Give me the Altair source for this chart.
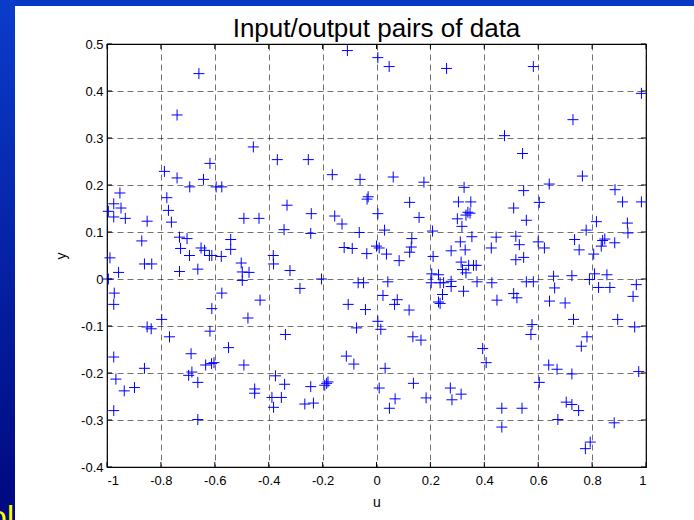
import altair as alt
import pandas as pd

u_vals = [
    -0.108, -0.659, -0.740, -0.457, -0.368, -0.253, -0.618, -0.787, -0.740, -0.164,
    -0.061, -0.642, -0.693, -0.595, -0.574, -0.952, -0.778, -0.031, -0.035, -0.975,
    -0.948, -0.995, -0.975, -0.932, -0.772, -0.332, -0.242, -0.761, -0.851, -0.492,
    -0.436, -0.155, -0.128, -0.343, -0.244, -0.064, -0.731, -0.703, -0.871, -0.541,
    -0.727, -0.651, -0.638, -0.620, -0.611, -0.694, -0.576, -0.541, -0.120, -0.090,
    -0.036, -0.989, -0.383, -0.382, -0.861, -0.834, -0.502,
    -0.957, -0.731, -0.663, -0.498, -0.473, -0.498, -0.321, -0.995, -0.204, -0.068,
    -0.048, -0.973, -0.975, -0.574, -0.284, -0.432, -0.611, -0.105, -0.041, -0.477,
    -0.797, -0.851, -0.836, -0.618, -0.768, -0.338, -0.074, -0.549, -0.688, -0.975,
    -0.112, -0.084, -0.634, -0.612, -0.603, -0.492, -0.861, -0.685, -0.697, -0.375,
    -0.967, -0.663, -0.341, -0.192, -0.180, -0.185, -0.244, -0.936, -0.898, -0.452,
    -0.452, -0.388, -0.353, -0.382, -0.266, -0.234, -0.975, -0.663,
    0.005, 0.047, 0.260, 0.582, 0.983, 0.729, 0.475, 0.542, 0.062, 0.176,
    0.764, 0.325, 0.546, 0.641, 0.885, 0.123, 0.304, 0.350, 0.604, 0.913,
    0.983, 0.509, 0.005, 0.158, 0.339, 0.332, 0.347, 0.300, 0.317, 0.556,
    0.816, 0.931, 0.030, 0.208, 0.354, 0.131, 0.778, 0.933, 0.444, 0.517,
    0.311, 0.735, 0.847, 0.884, 0.000, 0.010, 0.037, 0.129, 0.123, 0.210,
    0.277, 0.329, 0.426, 0.530, 0.600, 0.623, 0.752, 0.806, 0.834, 0.839,
    0.084, 0.517, 0.546, 0.314, 0.342, 0.360, 0.370,
    0.319, 0.332, 0.205, 0.230, 0.657, 0.725, 0.809, 0.855, 0.661, 0.042,
    0.203, 0.236, 0.249, 0.277, 0.277, 0.373, 0.428, 0.556, 0.582, 0.790,
    0.824, 0.866, 0.964, 0.952, 0.024, 0.245, 0.230, 0.236, 0.323, 0.077,
    0.067, 0.447, 0.509, 0.521, 0.642, 0.700, 0.121, 0.731, 0.895, 0.005,
    0.016, 0.577, 0.573, 0.958, 0.135, 0.165, 0.781, 0.760, 0.394, 0.407,
    0.032, 0.639, 0.670, 0.725, 0.973, 0.604, 0.010, 0.137, 0.184, 0.274,
    0.280, 0.314, 0.069, 0.048, 0.465, 0.465, 0.540, 0.704, 0.725, 0.750,
    0.673, 0.882, 0.793, 0.775,
]
y_vals = [
    0.486, 0.437, 0.349, 0.281, 0.254, 0.254, 0.246, 0.229, 0.215, 0.222,
    0.212, 0.212, 0.196, 0.196, 0.196, 0.183, 0.173, 0.175, 0.170, 0.160,
    0.151, 0.144, 0.132, 0.129, 0.146, 0.157, 0.139, 0.121, 0.123, 0.129,
    0.129, 0.134, 0.117, 0.105, 0.097, 0.099, 0.089, 0.086, 0.081, 0.084,
    0.065, 0.066, 0.061, 0.050, 0.050, 0.050, 0.048, 0.063, 0.067, 0.065,
    0.054, 0.045, 0.050, 0.032, 0.032, 0.032, 0.034,
    0.014, 0.016, 0.021, 0.015, 0.014, -0.003, 0.018, 0.000, 0.000, -0.008,
    -0.008, -0.030, -0.054, -0.030, -0.020, -0.045, -0.063, -0.054, -0.065, -0.083,
    -0.086, -0.102, -0.106, -0.111, -0.123, -0.118, -0.104, -0.146, -0.159, -0.166,
    -0.164, -0.181, -0.183, -0.180, -0.178, -0.183, -0.190, -0.198, -0.205, -0.206,
    -0.213, -0.220, -0.224, -0.226, -0.219, -0.222, -0.229, -0.238, -0.231, -0.234,
    -0.243, -0.252, -0.252, -0.273, -0.266, -0.264, -0.280, -0.299,
    0.471, 0.452, 0.448, 0.452, 0.395, 0.339, 0.305, 0.267, 0.217, 0.206,
    0.219, 0.195, 0.188, 0.202, 0.190, 0.163, 0.164, 0.164, 0.163, 0.164,
    0.164, 0.151, 0.139, 0.131, 0.142, 0.136, 0.140, 0.128, 0.112, 0.125,
    0.122, 0.119, 0.104, 0.102, 0.090, 0.086, 0.104, 0.098, 0.089, 0.091,
    0.079, 0.084, 0.085, 0.077, 0.070, 0.066, 0.053, 0.068, 0.057, 0.048,
    0.060, 0.062, 0.066, 0.073, 0.079, 0.066, 0.062, 0.053, 0.070, 0.082,
    0.039, 0.041, 0.046, 0.036, 0.029, 0.029, 0.029,
    0.020, 0.013, 0.011, 0.009, 0.006, 0.007, 0.011, 0.009, -0.019, -0.006,
    -0.008, -0.008, -0.008, -0.005, -0.016, -0.006, -0.008, -0.006, -0.006, -0.001,
    -0.018, -0.018, -0.012, -0.037, -0.035, -0.033, -0.049, -0.052, -0.026, -0.044,
    -0.054, -0.045, -0.031, -0.040, -0.047, -0.051, -0.066, -0.086, -0.086, -0.090,
    -0.107, -0.097, -0.118, -0.102, -0.123, -0.130, -0.123, -0.143, -0.148, -0.178,
    -0.190, -0.183, -0.192, -0.202, -0.197, -0.220, -0.232, -0.222, -0.253, -0.232,
    -0.257, -0.245, -0.255, -0.275, -0.275, -0.315, -0.275, -0.262, -0.267, -0.280,
    -0.299, -0.306, -0.347, -0.361,
]
x_ticks = [-1, -0.8, -0.6, -0.4, -0.2, 0, 0.2, 0.4, 0.6, 0.8, 1]
y_ticks = [-0.4, -0.3, -0.2, -0.1, 0, 0.1, 0.2, 0.3, 0.4, 0.5]
title_text = "Input/output pairs of data"

W, H = 539, 423
PAD = {"left": 107, "top": 44, "right": 48, "bottom": 53}

pts = pd.DataFrame({"u": u_vals, "y": y_vals})
xt = pd.DataFrame({"t": x_ticks})
yt = pd.DataFrame({"t": y_ticks})

xscale = alt.Scale(domain=[-1, 1], nice=False, zero=False)
yscale = alt.Scale(domain=[-0.4, 0.5], nice=False, zero=False)

common = dict(
    grid=True, gridColor="#000000", gridDash=[6, 4], gridWidth=0.7, gridOpacity=0.8,
    domain=False, ticks=False, labelFont="Liberation Sans", labelFontSize=13,
    labelColor="black", titleFont="Liberation Sans", titleFontSize=14,
    titleFontWeight="normal", titleColor="black",
    labelExpr="toString(datum.value)",
)
xaxis = alt.Axis(values=x_ticks, labelPadding=7, titlePadding=8, title="u", **common)
yaxis = alt.Axis(values=y_ticks, labelPadding=4, titlePadding=12, title="y", **common)

one = alt.Data(values=[{}])
top_bar = alt.Chart(one).mark_rect(color="#0639c4").encode(
    x=alt.value(-PAD["left"]), x2=alt.value(W + PAD["right"]),
    y=alt.value(-PAD["top"]), y2=alt.value(-38))
left_strip = alt.Chart(one).mark_rect(
    color=alt.LinearGradient(
        gradient="linear",
        stops=[alt.GradientStop(color="#0a3ccb", offset=0),
               alt.GradientStop(color="#00087e", offset=1)],
        x1=0, x2=0, y1=0, y2=1)
).encode(x=alt.value(-PAD["left"]), x2=alt.value(-92),
         y=alt.value(-PAD["top"]), y2=alt.value(H + PAD["bottom"]))
yellow = alt.Chart(one).mark_text(
    text="ol", color="#ffff00", fontSize=32, font="Liberation Sans",
    align="right", baseline="alphabetic").encode(x=alt.value(-93), y=alt.value(484))
title = alt.Chart(one).mark_text(
    text=title_text, color="black", fontSize=26, font="Liberation Sans",
    align="center", baseline="alphabetic").encode(x=alt.value(W / 2), y=alt.value(-7))

points = alt.Chart(pts).mark_point(
    shape="M-1,0L1,0M0,-1L0,1", filled=False, size=121, strokeWidth=1,
    color="#0000ff", opacity=1
).encode(
    x=alt.X("u:Q", scale=xscale, axis=xaxis),
    y=alt.Y("y:Q", scale=yscale, axis=yaxis),
)

tick_style = dict(color="black", strokeWidth=1)
xt_bot = alt.Chart(xt).mark_rule(**tick_style).encode(
    x=alt.X("t:Q", scale=xscale), y=alt.value(H), y2=alt.value(H - 5))
xt_top = alt.Chart(xt).mark_rule(**tick_style).encode(
    x=alt.X("t:Q", scale=xscale), y=alt.value(0), y2=alt.value(5))
yt_left = alt.Chart(yt).mark_rule(**tick_style).encode(
    y=alt.Y("t:Q", scale=yscale), x=alt.value(0), x2=alt.value(5))
yt_right = alt.Chart(yt).mark_rule(**tick_style).encode(
    y=alt.Y("t:Q", scale=yscale), x=alt.value(W), x2=alt.value(W - 5))

chart = alt.layer(
    top_bar, left_strip, yellow, title, points, xt_bot, xt_top, yt_left, yt_right
).properties(
    width=W, height=H, padding=PAD, autosize="none", background="white",
).configure_view(stroke="black", strokeWidth=1.2)

chart.save("out.html", embed_options={"renderer": "svg", "actions": False})
